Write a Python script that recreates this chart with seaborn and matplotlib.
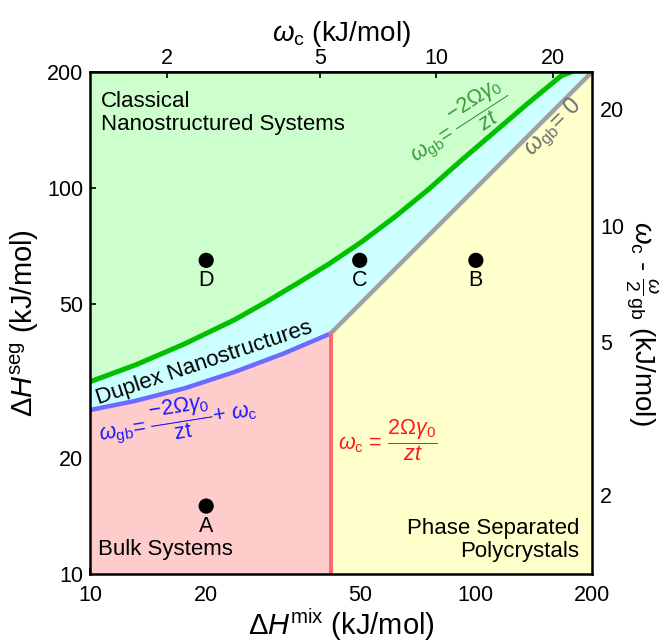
import numpy as np
import pandas as pd
import seaborn as sns
import matplotlib.pyplot as plt
from matplotlib.ticker import NullLocator

sns.set_theme(style='ticks')
plt.rcParams['font.family'] = ['Liberation Sans', 'DejaVu Sans']
plt.rcParams['mathtext.fontset'] = 'custom'
plt.rcParams['mathtext.rm'] = 'Liberation Sans'
plt.rcParams['mathtext.it'] = 'Liberation Sans:italic'
plt.rcParams['mathtext.bf'] = 'Liberation Sans:bold'
plt.rcParams['xtick.direction'] = 'in'
plt.rcParams['ytick.direction'] = 'in'
for key in ['text.color', 'axes.labelcolor', 'xtick.color', 'ytick.color', 'axes.edgecolor']:
    plt.rcParams[key] = 'black'

# Boundary curves (dH_mix, dH_seg in kJ/mol).
green_x = [10, 13.1, 17.6, 23.7, 28.8, 34.8, 41.6, 50.7, 61.8, 75.4, 91.9, 112, 136.5, 166.4, 176.6]
green_y = [31.5, 34.8, 39.5, 45.6, 50.9, 57.0, 63.6, 72.7, 84.4, 99.3, 118.3, 140.1, 166.0, 195.5, 200]
blue_x = [10, 13.1, 17.6, 23.7, 31.8, 42]
blue_y = [26.6, 28.1, 30.3, 33.4, 37.3, 42]
gray_x = [42, 200]
gray_y = [42, 200]
red_x = [42, 42]
red_y = [10, 42]

# Example systems.
point_names = ['A', 'B', 'C', 'D']
point_x = [20, 100, 50, 20]
point_y = [15, 65, 65, 65]

lo, hi = 10, 200
ticks = [10, 20, 50, 100, 200]
omega_ticks = [2, 5, 10, 20]
x_factor = 7.9   # dH_mix per unit omega_c
y_factor = 8.0   # dH_seg per unit (omega_c - omega_gb/2)

fig = plt.figure(figsize=(6.6, 6.43), dpi=100)
ax = fig.add_axes([0.1364, 0.1073, 0.7606, 0.7807])
ax.set_xscale('log')
ax.set_yscale('log')

# Region fills.
ax.fill(green_x + [lo], green_y + [hi], color='#ccffcc', lw=0, zorder=0)
ax.fill(green_x + [hi, hi, lo], green_y + [hi, lo, lo], color='#ccffff', lw=0, zorder=0)
ax.fill(blue_x + [red_x[0], lo], blue_y + [lo, lo], color='#ffcccc', lw=0, zorder=1)
ax.fill(gray_x + [hi, gray_x[0]], gray_y + [lo, lo], color='#ffffcc', lw=0, zorder=1)

# Boundaries.
sns.lineplot(x=green_x, y=green_y, sort=False, estimator=None, color='#00c000', lw=3.6, ax=ax, zorder=3)
sns.lineplot(x=blue_x, y=blue_y, sort=False, estimator=None, color='#6b6bff', lw=3.2, ax=ax, zorder=3)
sns.lineplot(x=gray_x, y=gray_y, sort=False, estimator=None, color='#a0a0a0', lw=3.2, ax=ax, zorder=3)
sns.lineplot(x=red_x, y=red_y, sort=False, estimator=None, color='#ff6666', lw=2.8, ax=ax, zorder=3)

pts = pd.DataFrame({'name': point_names, 'x': point_x, 'y': point_y})
sns.scatterplot(data=pts, x='x', y='y', color='black', s=120, edgecolor='none', ax=ax, zorder=5)
for _, r in pts.iterrows():
    ax.annotate(r['name'], (r['x'], r['y']), xytext=(0, -14.5), textcoords='offset points',
                ha='center', va='center', fontsize=15.5, zorder=6)

ax.set_xlim(lo, hi)
ax.set_ylim(lo, hi)
ax.set_xticks(ticks, labels=[str(t) for t in ticks])
ax.set_yticks(ticks, labels=[str(t) for t in ticks])
ax.xaxis.set_minor_locator(NullLocator())
ax.yaxis.set_minor_locator(NullLocator())
ax.tick_params(labelsize=15.5, length=4, width=1.2, pad=5)
ax.tick_params(axis='x', pad=8)
for s in ax.spines.values():
    s.set_linewidth(1.8)
    s.set_zorder(10)

ax.set_xlabel(r'$\Delta \mathit{H}^{\rm mix}$ (kJ/mol)', fontsize=21, labelpad=0)
ax.set_ylabel(r'$\Delta \mathit{H}^{\rm seg}$ (kJ/mol)', fontsize=21, labelpad=4)

top = ax.secondary_xaxis('top', functions=(lambda v: v / x_factor, lambda v: v * x_factor))
top.set_xticks(omega_ticks, labels=[str(t) for t in omega_ticks])
top.xaxis.set_minor_locator(NullLocator())
top.tick_params(labelsize=15.5, length=4, width=1.2, direction='in', pad=2)
top.set_xlabel(r'$\omega_{\rm c}$ (kJ/mol)', fontsize=20, labelpad=5)

right = ax.secondary_yaxis('right', functions=(lambda v: v / y_factor, lambda v: v * y_factor))
right.set_yticks(omega_ticks, labels=[str(t) for t in omega_ticks])
right.yaxis.set_minor_locator(NullLocator())
right.tick_params(labelsize=15.5, length=4, width=1.2, direction='in', pad=6)
right.set_ylabel(r'$\omega_{\rm c}$ - $\frac{\omega}{2}_{\rm gb}$ (kJ/mol)', fontsize=20,
                 rotation=270, labelpad=26)

# Region and boundary labels.
ax.text(0.022, 0.962, 'Classical\nNanostructured Systems', transform=ax.transAxes,
        ha='left', va='top', fontsize=16, linespacing=1.15, zorder=6)
ax.text(0.016, 0.048, 'Bulk Systems', transform=ax.transAxes,
        ha='left', va='center', fontsize=16, zorder=6)
ax.text(0.975, 0.024, 'Phase Separated\nPolycrystals', transform=ax.transAxes,
        ha='right', va='bottom', fontsize=16, linespacing=1.15, multialignment='right', zorder=6)
ax.text(19.7, 35.2, 'Duplex Nanostructures', ha='center', va='center', rotation=18.5,
        rotation_mode='anchor', fontsize=16, zorder=6)
ax.text(16.8, 25.2, r'$\omega_{\rm gb}$= $\dfrac{-2\Omega\gamma_{0}}{\rm zt}$+ $\omega_{\rm c}$',
        ha='center', va='center', rotation=9, rotation_mode='anchor', fontsize=15.5,
        color='#1a1aff', zorder=6)
ax.text(43.8, 22.2, r'$\omega_{\rm c}$ = $\dfrac{2\Omega\gamma_{0}}{zt}$', ha='left', va='center',
        fontsize=15.5, color='#ff1a1a', zorder=6)
ax.text(90.2, 147, r'$\omega_{\rm gb}$= $\dfrac{-2\Omega\gamma_{0}}{zt}$', ha='center', va='center',
        rotation=33, rotation_mode='anchor', fontsize=15.5, color='#3a9a3a', zorder=6)
ax.text(159.6, 143, r'$\omega_{\rm gb}$= 0', ha='center', va='center', rotation=45,
        rotation_mode='anchor', fontsize=17, color='#707070', zorder=6)

fig.savefig('out.png', dpi=100)
